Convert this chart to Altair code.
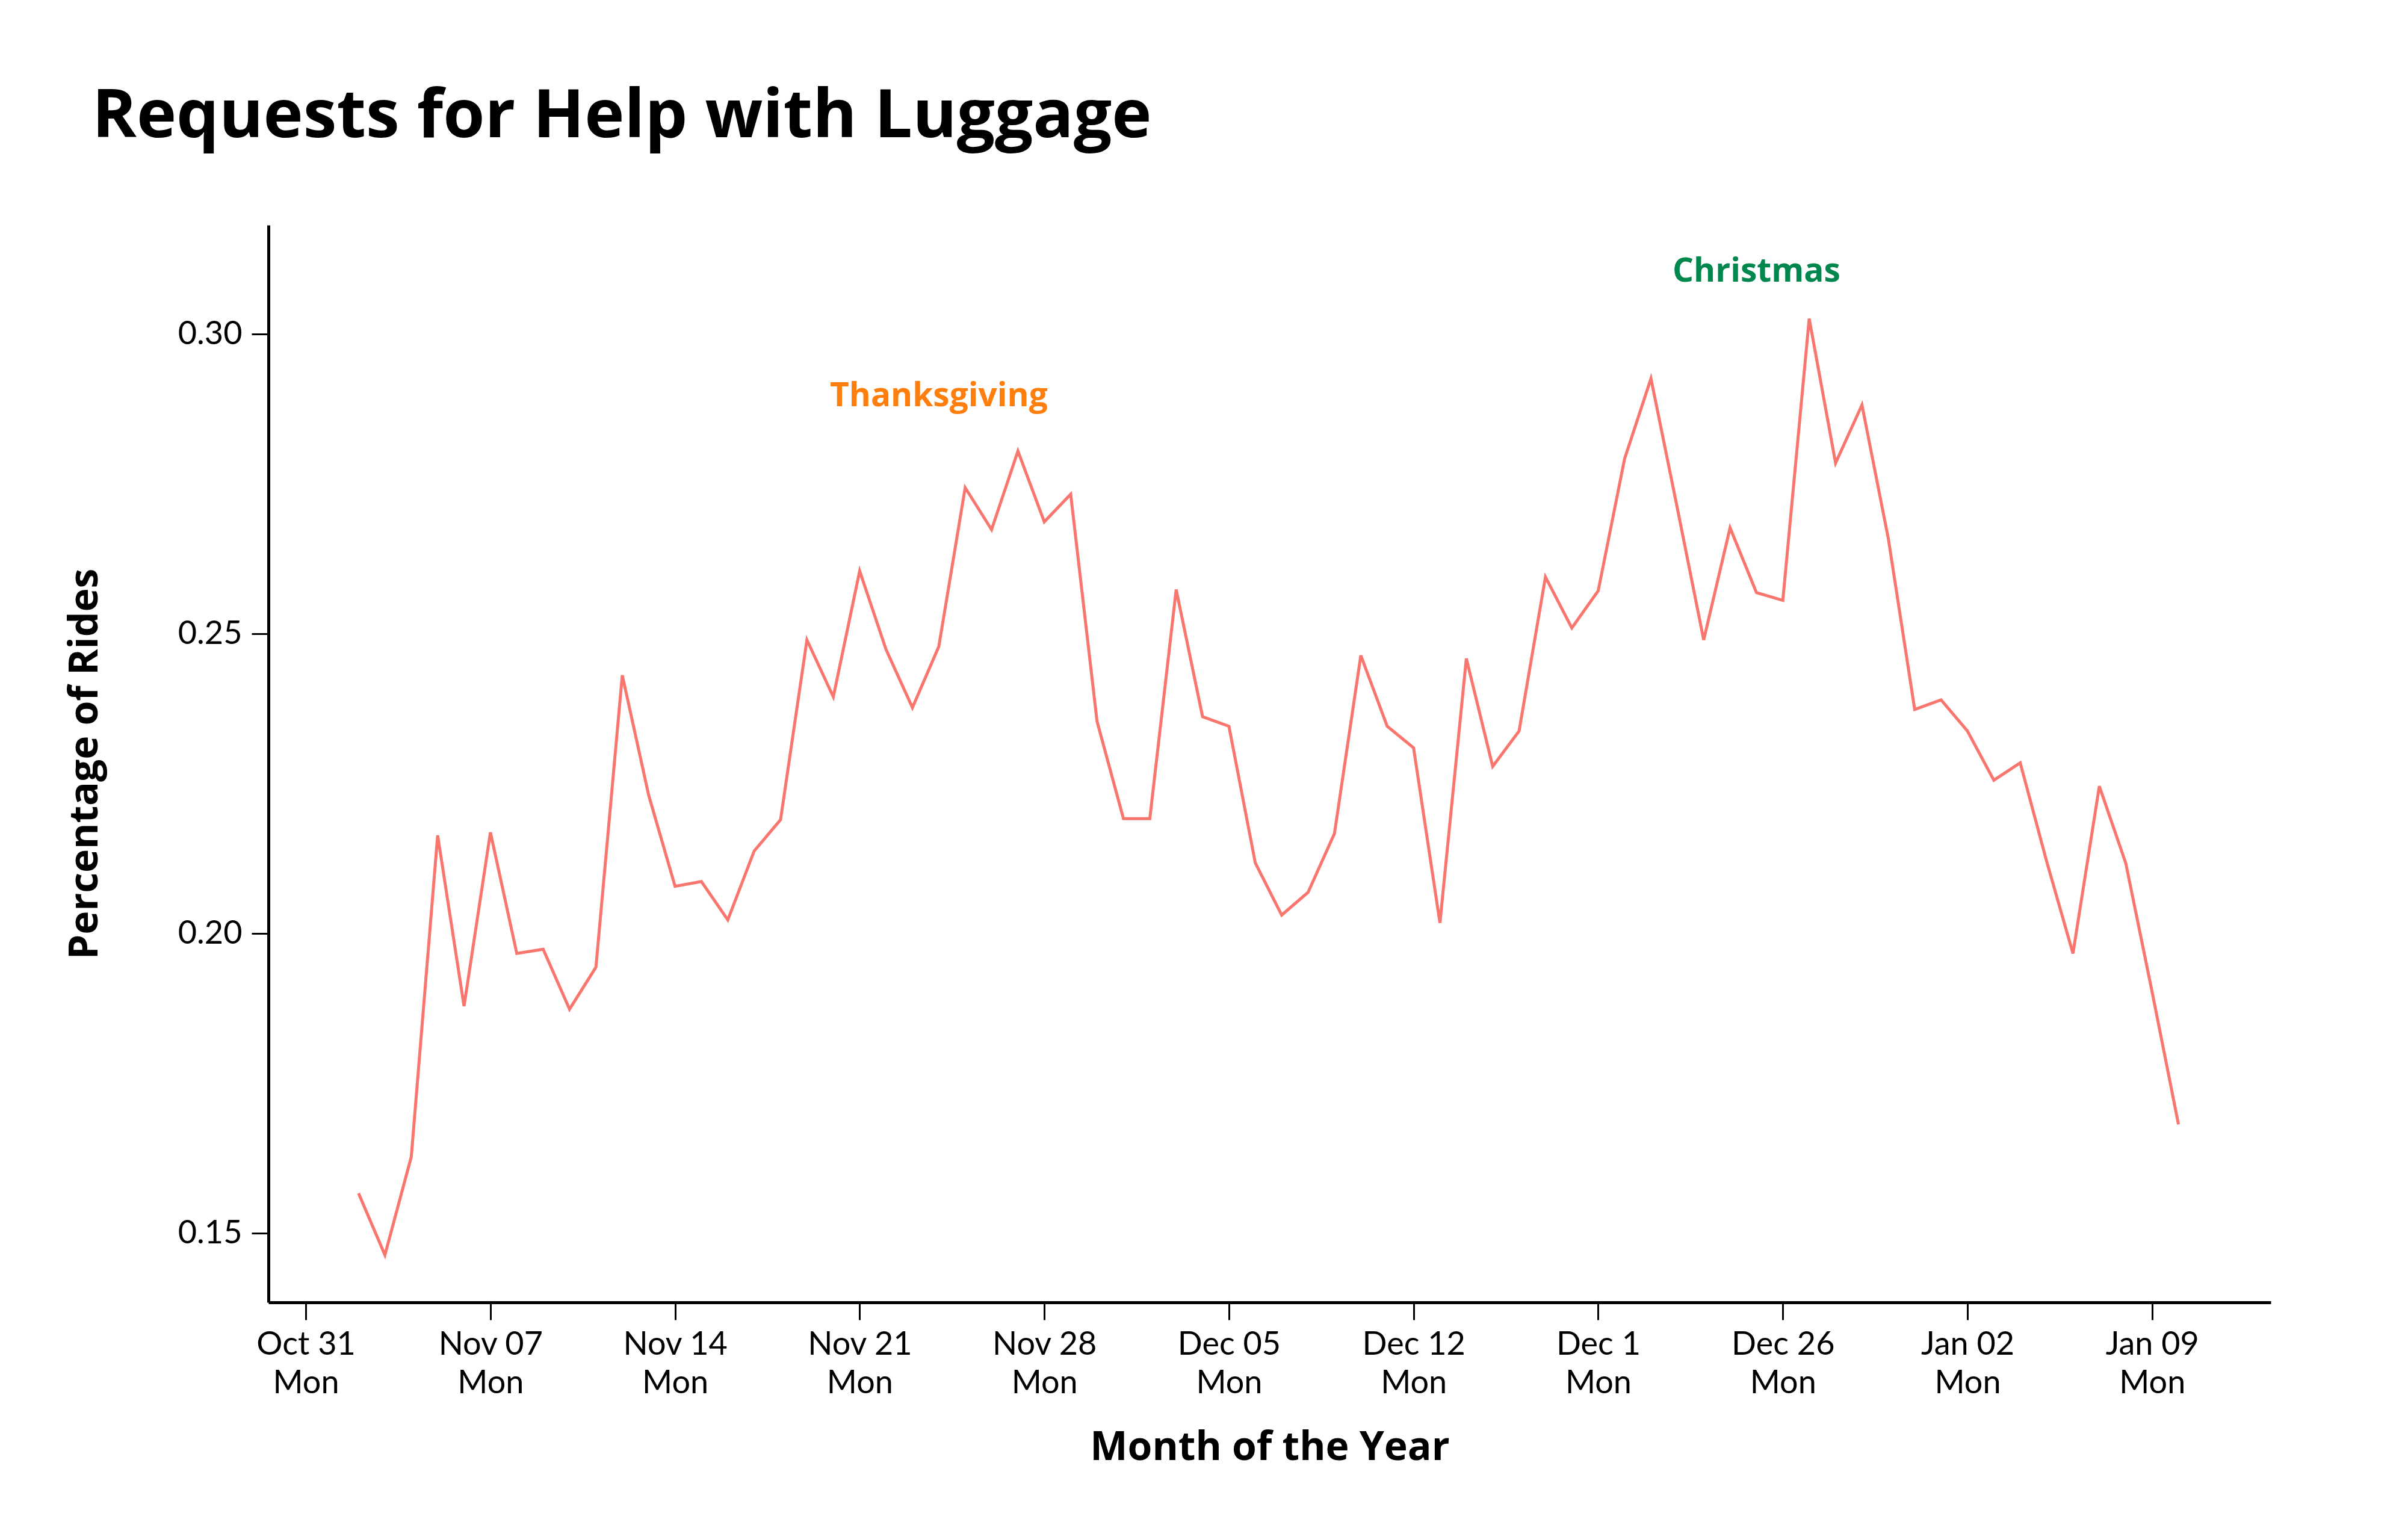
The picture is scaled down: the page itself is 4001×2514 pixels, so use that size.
import altair as alt
import pandas as pd

# ---------------- data ----------------
DATES = pd.date_range("2022-11-02", "2023-01-10", freq="D").strftime("%Y-%m-%d").tolist()

VALUES = [
    0.1567, 0.1464, 0.1628, 0.2164, 0.1879, 0.2169, 0.1967, 0.1974, 0.1874, 0.1944,
    0.2431, 0.2231, 0.2079, 0.2087, 0.2023, 0.2138, 0.2190, 0.2490, 0.2395, 0.2605,
    0.2474, 0.2377, 0.2479, 0.2744, 0.2674, 0.2805, 0.2687, 0.2733, 0.2354,
    0.2192, 0.2192, 0.2574, 0.2362, 0.2346, 0.2118, 0.2031, 0.2069, 0.2167, 0.2464,
    0.2346, 0.2310, 0.2018, 0.2459, 0.2279, 0.2338, 0.2595, 0.2510, 0.2572, 0.2792,
    0.2926, 0.2710, 0.2490, 0.2677, 0.2569, 0.2556, 0.3026, 0.2785, 0.2882, 0.2659,
    0.2374,
    0.2390, 0.2338, 0.2256, 0.2285, 0.2121, 0.1967, 0.2246, 0.2118, 0.1903, 0.1682,
]

TICK_DATES = ["2022-10-31", "2022-11-07", "2022-11-14", "2022-11-21", "2022-11-28",
              "2022-12-05", "2022-12-12", "2022-12-19", "2022-12-26", "2023-01-02", "2023-01-09"]
TICK_LABELS = ["Oct 31", "Nov 07", "Nov 14", "Nov 21", "Nov 28",
               "Dec 05", "Dec 12", "Dec 1", "Dec 26", "Jan 02", "Jan 09"]
TICK_DAY = "Mon"

ANN_TEXT = ["Thanksgiving", "Christmas"]
ANN_DATES = ["2022-11-24", "2022-12-25"]
ANN_Y = [0.2897, 0.3105]
ANN_COLORS = ["#ff7f0e", "#00874d"]

Y_DOMAIN = [0.1385, 0.3182]

LINE_COLOR = "#f8766d"
FONT = "Lato"
HEAD_FONT = "Open Sans"

# ---------------- build ----------------
df = pd.DataFrame({"date": DATES, "value": VALUES})
ann = pd.DataFrame({"date": ANN_DATES, "y": ANN_Y, "label": ANN_TEXT, "color": ANN_COLORS})

def dt(s, hours=0):
    y, m, d = (int(p) for p in s.split("-"))
    return alt.DateTime(year=y, month=m, date=d, hours=hours, utc=True)

# label expression built from the tick label lists
expr = f"['', '{TICK_DAY}']"
for d, lab in reversed(list(zip(TICK_DATES, TICK_LABELS))):
    expr = f"utcFormat(datum.value, '%Y-%m-%d') == '{d}' ? ['{lab}', '{TICK_DAY}'] : ({expr})"

x_scale = alt.Scale(type="utc", domain=[dt("2022-10-29", 14), dt("2023-01-13", 12)])
y_scale = alt.Scale(domain=Y_DOMAIN, zero=False, nice=False)

x_axis = alt.Axis(
    title="Month of the Year",
    values=[dt(d) for d in TICK_DATES],
    labelExpr=expr,
    labelFont=FONT, labelFontSize=54, labelColor="black", labelLineHeight=64,
    labelPadding=14, labelAngle=0, labelFlush=False,
    titleFont=HEAD_FONT, titleFontSize=66, titleFontWeight="bold", titleColor="black",
    titlePadding=48,
    domainColor="black", domainWidth=5, tickColor="black", tickWidth=3, tickSize=29,
    grid=False,
)
y_axis = alt.Axis(
    title="Percentage of Rides",
    values=[0.15, 0.20, 0.25, 0.30], format=".2f",
    labelFont=FONT, labelFontSize=54, labelColor="black", labelPadding=16,
    titleFont=HEAD_FONT, titleFontSize=66, titleFontWeight="bold", titleColor="black",
    titlePadding=120,
    domainColor="black", domainWidth=5, tickColor="black", tickWidth=3, tickSize=28,
    grid=False,
)

line = alt.Chart(df).mark_line(color=LINE_COLOR, strokeWidth=5).encode(
    x=alt.X("date:T", scale=x_scale, axis=x_axis),
    y=alt.Y("value:Q", scale=y_scale, axis=y_axis),
)

text = alt.Chart(ann).mark_text(
    font=HEAD_FONT, fontSize=55, fontWeight="bold", align="center", baseline="middle"
).encode(
    x=alt.X("date:T", scale=x_scale),
    y=alt.Y("y:Q", scale=y_scale),
    text="label:N",
    color=alt.Color("color:N", scale=None, legend=None),
)

chart = alt.layer(line, text).properties(
    width=3327,
    height=1790,
    background="white",
    padding={"left": 100, "top": 130, "right": 120, "bottom": 60},
    title=alt.TitleParams(
        text="Requests for Help with Luggage",
        anchor="start", frame="group", dx=-293,
        font=HEAD_FONT, fontSize=112, fontWeight="bold", color="black",
        baseline="alphabetic", offset=34,
    ),
).configure_view(stroke=None)

chart.save("out.html", embed_options={"renderer": "svg", "actions": False})
